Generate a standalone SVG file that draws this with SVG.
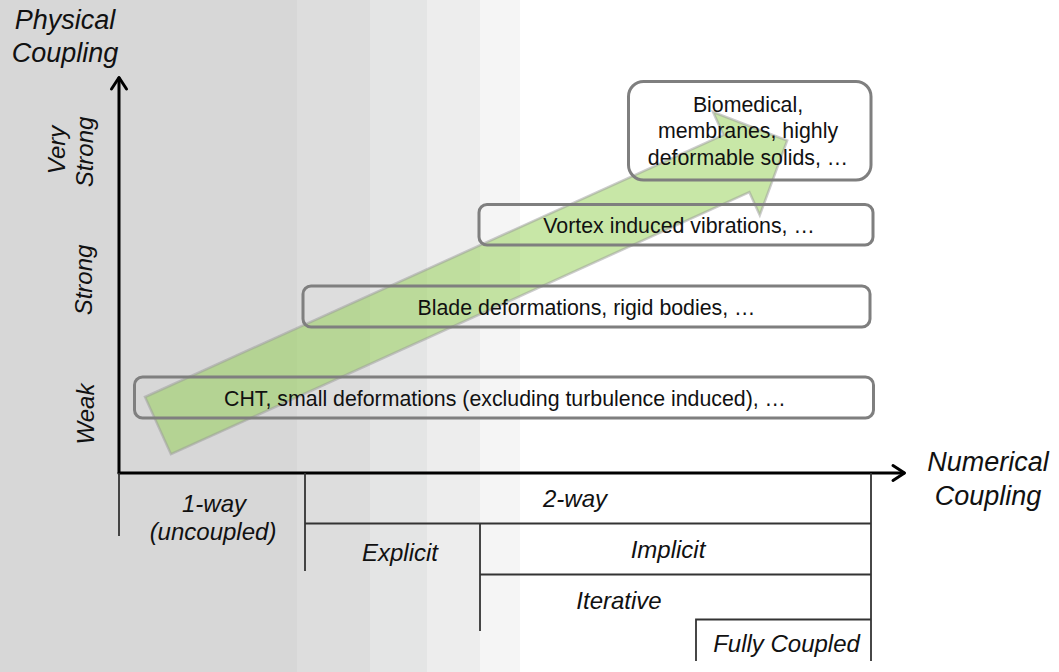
<svg xmlns="http://www.w3.org/2000/svg" width="1059" height="672" viewBox="0 0 1059 672">
<style>
.box{fill:none;stroke:#7f7f7f;stroke-width:3}
.bt{font-family:"Liberation Sans",Arial,sans-serif;font-size:21.33px;fill:#111;text-anchor:middle}
.it{font-family:"Liberation Sans",Arial,sans-serif;font-size:24px;font-style:italic;fill:#111;text-anchor:middle}
.ttl{font-family:"Liberation Sans",Arial,sans-serif;font-size:27px;font-style:italic;fill:#111;text-anchor:middle}
.ax{fill:none;stroke:#000;stroke-width:3;stroke-linecap:round;stroke-linejoin:round}
.tl{fill:none;stroke:#333;stroke-width:1.8}
</style>
<g id="background">
<rect x="0" y="0" width="1059" height="672" fill="#ffffff"/>
<rect x="0" y="0" width="297" height="672" fill="#d7d7d7"/>
<rect x="297" y="0" width="73" height="672" fill="#dddddd"/>
<rect x="370" y="0" width="57" height="672" fill="#e4e5e5"/>
<rect x="427" y="0" width="53" height="672" fill="#ededed"/>
<rect x="480" y="0" width="40" height="672" fill="#f5f5f5"/>
</g>
<g id="trend-arrow" transform="translate(158,425.6) rotate(-24.37)">
<polygon points="0,-31.4 635,-31.4 635,-56.6 690.7,0 635,56.6 635,31.4 0,31.4" fill="#92d050" fill-opacity="0.5" stroke="#999999" stroke-opacity="0.5" stroke-width="2.5" stroke-linejoin="miter"/>
</g>
<g id="connectors">
<g id="axes">
<line class="ax" x1="119" y1="473" x2="119" y2="78"/>
<polyline class="ax" points="111.5,89 119,77.5 126.5,89"/>
<line class="ax" x1="119" y1="473" x2="904" y2="473"/>
<polyline class="ax" points="893,465.5 904.5,473 893,480.5"/>
</g>
<g id="table-lines">
<line class="tl" x1="119" y1="473" x2="119" y2="536"/>
<line class="tl" x1="305" y1="473" x2="305" y2="571"/>
<line class="tl" x1="305" y1="523.5" x2="871" y2="523.5"/>
<line class="tl" x1="480" y1="523.5" x2="480" y2="631"/>
<line class="tl" x1="480" y1="574.5" x2="871" y2="574.5"/>
<line class="tl" x1="871" y1="473" x2="871" y2="661"/>
<polyline class="tl" points="696,661 696,619.5 871,619.5"/>
</g>
</g>
<g id="axis-titles">
<text class="ttl" x="65" y="29">Physical</text>
<text class="ttl" x="65" y="62">Coupling</text>
<text class="ttl" x="988" y="471">Numerical</text>
<text class="ttl" x="988" y="505">Coupling</text>
</g>
<g id="axis-levels">
<text class="it" transform="translate(65,150) rotate(-90)">Very</text>
<text class="it" transform="translate(93,152) rotate(-90)">Strong</text>
<text class="it" transform="translate(92,280) rotate(-90)">Strong</text>
<text class="it" transform="translate(94,414) rotate(-90)">Weak</text>
</g>
<g id="node-cht">
<rect class="box" x="134.5" y="377" width="739" height="41" rx="8"/>
<text class="bt" x="505" y="406">CHT, small deformations (excluding turbulence induced), …</text>
</g>
<g id="node-blade">
<rect class="box" x="303" y="286" width="567" height="41" rx="8"/>
<text class="bt" x="586.5" y="314.5">Blade deformations, rigid bodies, …</text>
</g>
<g id="node-vortex">
<rect class="box" x="479" y="204.5" width="394" height="40.5" rx="8"/>
<text class="bt" x="679" y="232.5">Vortex induced vibrations, …</text>
</g>
<g id="node-biomedical">
<rect class="box" x="628.5" y="81.5" width="242.5" height="98.5" rx="15"/>
<text class="bt" x="748" y="111.5">Biomedical,</text>
<text class="bt" x="748" y="138">membranes, highly</text>
<text class="bt" x="748" y="164.5">deformable solids, …</text>
</g>
<g id="table-labels">
<text class="it" x="214" y="512">1-way</text>
<text class="it" x="213" y="540">(uncoupled)</text>
<text class="it" x="575" y="507">2-way</text>
<text class="it" x="400" y="561">Explicit</text>
<text class="it" x="668" y="558">Implicit</text>
<text class="it" x="619" y="609">Iterative</text>
<text class="it" x="786.5" y="652">Fully Coupled</text>
</g>
</svg>
